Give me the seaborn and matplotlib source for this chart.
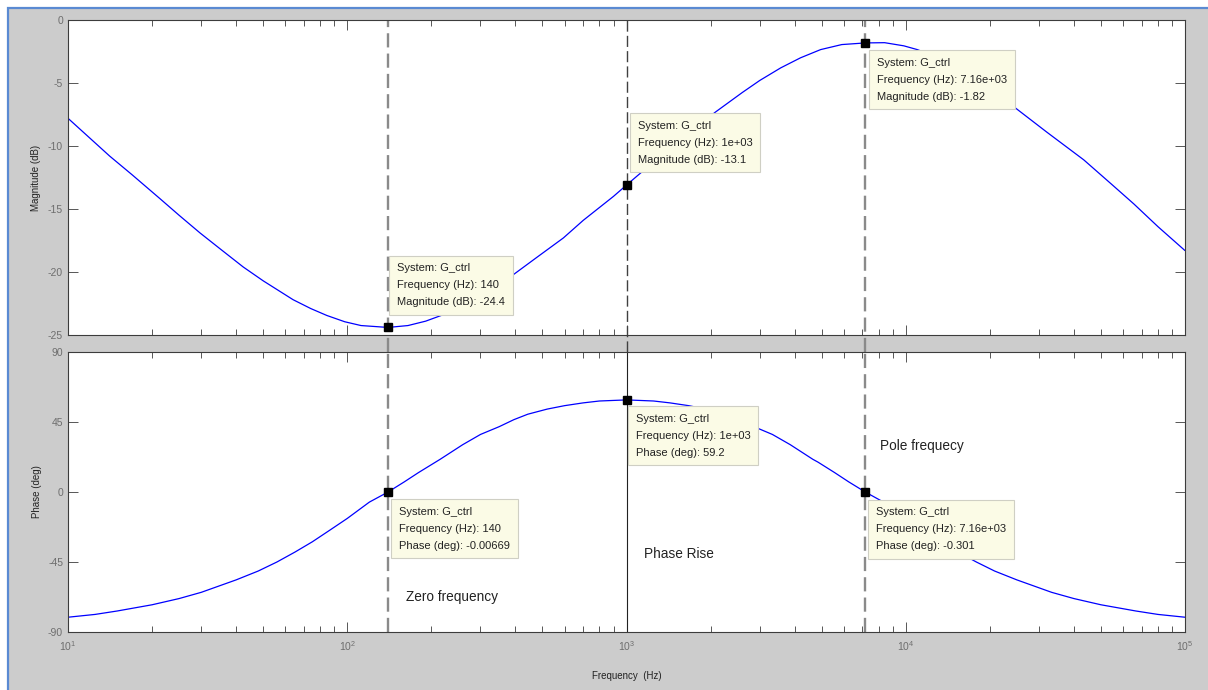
import numpy as np
import pandas as pd
import matplotlib
matplotlib.use("Agg")
import matplotlib.pyplot as plt
from matplotlib.patches import Rectangle
import seaborn as sns

# Bode response of the controller G_ctrl, read at selected frequencies
mag_freq_hz = [10, 14.1, 17, 21.4, 25, 29.7, 35, 42.4, 50, 64, 74, 84.5, 98, 112, 140,
               165, 191, 220, 250, 280, 316, 350, 394, 480, 594, 700, 898, 1000, 1260,
               1580, 1800, 2084, 2600, 3000, 3566, 4200, 4955, 5900, 7160, 8400, 9840,
               11000, 12600, 15800, 20000, 25100, 32000, 43400, 55000, 65600, 80000,
               100000]
mag_db = [-7.8, -10.8, -12.3, -14.2, -15.5, -16.9, -18.15, -19.6, -20.7, -22.2, -22.9,
          -23.45, -23.95, -24.25, -24.4, -24.25, -23.9, -23.4, -22.8, -22.25, -21.6,
          -20.95, -20.2, -18.8, -17.3, -15.9, -14.0, -13.1, -11.2, -9.4, -8.4, -7.3,
          -5.75, -4.8, -3.8, -3.0, -2.35, -1.95, -1.82, -1.8, -2.05, -2.35, -2.85, -4.0,
          -5.4, -7.1, -8.9, -11.1, -13.1, -14.6, -16.4, -18.3]

phase_freq_hz = [10, 12.5, 15, 20, 25, 30, 40, 48, 56, 65, 75, 87, 100, 120, 140, 160,
                 180, 215, 259, 300, 350, 395, 443, 520, 600, 700, 800, 1000, 1250,
                 1430, 1670, 1920, 2260, 2530, 2860, 3330, 3860, 4650, 4850, 5560, 6250,
                 7160, 8330, 10000, 11500, 13300, 15400, 17900, 20800, 25000, 33300,
                 40000, 50000, 66700, 80000, 100000]
phase_deg = [-80.5, -78.7, -76.5, -72.5, -68.5, -64.5, -56.5, -50.8, -45, -38.6, -32,
             -24.3, -17, -6.5, 0, 6.5, 12.5, 21, 30.4, 37, 42, 46.5, 50, 53.3, 55.5,
             57.3, 58.5, 59.2, 58.5, 57.3, 55.5, 53.3, 50, 46.5, 42, 37, 30.4, 21, 19.2,
             12.5, 6.5, 0, -6.5, -17, -24.3, -32, -38.6, -45, -50.8, -56.5, -64.5,
             -68.5, -72.5, -76.5, -78.7, -80.5]

# Data tips: frequency, value, label text
tip_freq = [140, 1000, 7160]
tip_freq_text = ["140", "1e+03", "7.16e+03"]
tip_mag = [-24.4, -13.1, -1.82]
tip_phase = [-0.00669, 59.2, -0.301]
tip_phase_text = ["-0.00669", "59.2", "-0.301"]

mag_yticks = [0, -5, -10, -15, -20, -25]
phase_yticks = [90, 45, 0, -45, -90]

sns.set_style("ticks")
plt.rcParams["font.family"] = ["Liberation Sans", "DejaVu Sans"]
plt.rcParams["axes.unicode_minus"] = False
plt.rcParams["mathtext.fontset"] = "custom"
plt.rcParams["mathtext.rm"] = "Liberation Sans"

W, H = 1208, 690
fig = plt.figure(figsize=(W / 100, H / 100), dpi=100, facecolor="white")

# grey figure panel with blue frame on the left and top
fig.patches.append(Rectangle((8 / W, -0.05), 1.1, 1 - 8 / H + 0.05, transform=fig.transFigure,
                             facecolor="#cccccc", edgecolor="#5a8ad2", lw=1.6, zorder=-10))


def px_axes(left, top, right, bottom):
    return fig.add_axes([left / W, 1 - bottom / H, (right - left) / W, (bottom - top) / H])


ax_mag = px_axes(68, 20, 1185, 335)
ax_ph = px_axes(68, 352, 1185, 632)

df_mag = pd.DataFrame({"Frequency (Hz)": mag_freq_hz, "Magnitude (dB)": mag_db})
df_ph = pd.DataFrame({"Frequency (Hz)": phase_freq_hz, "Phase (deg)": phase_deg})

sns.lineplot(data=df_mag, x="Frequency (Hz)", y="Magnitude (dB)", ax=ax_mag,
             color="#0000ff", lw=0.9, estimator=None, sort=False, zorder=2)
sns.lineplot(data=df_ph, x="Frequency (Hz)", y="Phase (deg)", ax=ax_ph,
             color="#0000ff", lw=0.9, estimator=None, sort=False, zorder=2)

for ax in (ax_mag, ax_ph):
    ax.set_facecolor("white")
    ax.set_xscale("log")
    ax.set_xlim(10, 1e5)
    ax.tick_params(which="both", direction="in", top=True, right=True,
                   colors="#3c3c3c", labelcolor="#6e6e6e", labelsize=7.5, width=0.6)
    ax.tick_params(which="major", length=7)
    ax.tick_params(which="minor", length=4)
    for s in ax.spines.values():
        s.set_color("#3c3c3c")
        s.set_linewidth(0.8)

ax_mag.set_ylim(-25, 0)
ax_mag.set_yticks(mag_yticks)
ax_mag.set_yticklabels([str(v) for v in mag_yticks])
ax_mag.tick_params(axis="x", which="both", labelbottom=False)
ax_mag.set_xlabel("")
ax_mag.set_ylabel("Magnitude (dB)", fontsize=7, color="#222222", labelpad=5)

ax_ph.set_ylim(-90, 90)
ax_ph.set_yticks(phase_yticks)
ax_ph.set_yticklabels([str(v) for v in phase_yticks])
ax_ph.set_ylabel("Phase (deg)", fontsize=7, color="#222222", labelpad=4)
ax_ph.set_xlabel("Frequency  (Hz)", fontsize=7, color="#222222", labelpad=13)
ax_ph.tick_params(axis="x", pad=5)

# frequency markers: zero and pole as grey dashes, phase peak as dark line
gap = 17 / 315
for f in (tip_freq[0], tip_freq[2]):
    ax_mag.axvline(f, ymin=-gap, ymax=1, color="#8a8a8a", lw=1.7, dashes=(6, 2.6),
                   clip_on=False, zorder=1.5)
    ax_ph.axvline(f, color="#8a8a8a", lw=1.7, dashes=(6, 2.6), zorder=1.5)
ax_mag.axvline(tip_freq[1], ymin=-gap, ymax=1, color="#404040", lw=1.0, dashes=(8, 3),
               clip_on=False, zorder=1.5)
ax_ph.axvline(tip_freq[1], color="#222222", lw=0.8, zorder=1.5)

box = dict(boxstyle="square,pad=0.7", fc="#fbfbe6", ec="#cfcfc4", lw=0.8)
tip_style = dict(textcoords="offset pixels", ha="left", va="top", fontsize=8,
                 color="#222222", linespacing=1.85, bbox=box, zorder=5)

mag_offsets = [(9, 64), (11, 64), (12, -15)]
for f, v, t, off in zip(tip_freq, tip_mag, tip_freq_text, mag_offsets):
    ax_mag.plot([f], [v], marker="s", ms=6, color="black", zorder=6, clip_on=False)
    ax_mag.annotate(f"System: G_ctrl\nFrequency (Hz): {t}\nMagnitude (dB): {v}",
                    xy=(f, v), xytext=off, **tip_style)

ph_offsets = [(11, -15), (9, -14), (11, -15)]
for f, v, t, pt, off in zip(tip_freq, tip_phase, tip_freq_text, tip_phase_text, ph_offsets):
    ax_ph.plot([f], [v], marker="s", ms=6, color="black", zorder=6, clip_on=False)
    ax_ph.annotate(f"System: G_ctrl\nFrequency (Hz): {t}\nPhase (deg): {pt}",
                   xy=(f, v), xytext=off, **tip_style)

ax_ph.text(162, -67.5, "Zero frequency", fontsize=9.8, color="#222222", va="center")
ax_ph.text(1160, -40, "Phase Rise", fontsize=9.8, color="#222222", va="center")
ax_ph.text(8100, 29.5, "Pole frequecy", fontsize=9.8, color="#222222", va="center")

fig.savefig("out.png", dpi=100, facecolor=fig.get_facecolor())
